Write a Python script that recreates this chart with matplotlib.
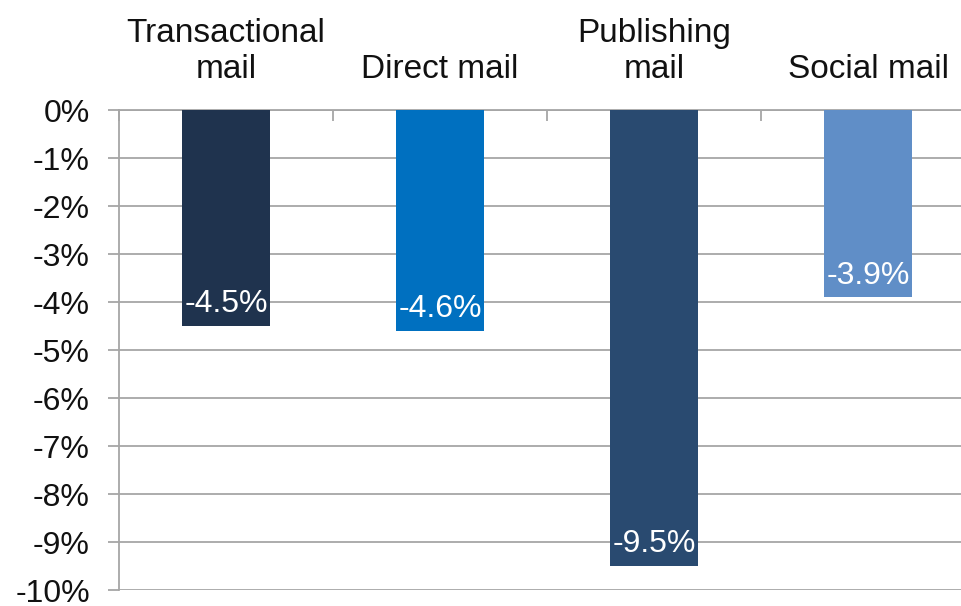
import matplotlib.pyplot as plt
import numpy as np

categories = ["Transactional\nmail", "Direct mail", "Publishing\nmail", "Social mail"]
changes = [-4.5, -4.6, -9.5, -3.9]
bar_colors = ["#1F334E", "#0070C0", "#294A70", "#608EC7"]
y_ticks = list(range(0, -11, -1))
y_labels = [str(t) + "%" for t in y_ticks]

plt.rcParams['font.family'] = ['Liberation Sans', 'DejaVu Sans']

fig = plt.figure(figsize=(9.61, 6.06), dpi=100)
ax = fig.add_axes([119/961, 1 - 590/606, (975 - 119)/961, 480/606])

x = np.arange(len(categories))
ax.bar(x, changes, width=0.41, color=bar_colors, zorder=3)

for xi, v in zip(x, changes):
    ax.text(xi, v + 0.45, f"{v:.1f}%", ha="center", va="center",
            color="white", fontsize=23, zorder=4)

grid_col = "#A6A6A6"
ax.set_ylim(-10, 0)
ax.set_xlim(-0.5, len(categories) - 0.5)
ax.set_yticks(y_ticks)
ax.set_yticklabels(y_labels, fontsize=23, color="#111111")
for t in y_ticks:
    ax.axhline(t, color=grid_col, linewidth=1.3, zorder=1)

ax.xaxis.tick_top()
ax.set_xticks(np.arange(len(categories) + 1) - 0.5)
ax.set_xticklabels([])
ax.set_xticks(x, minor=True)
ax.set_xticklabels(categories, minor=True, fontsize=24, va="bottom", color="#111111")
ax.tick_params(axis="x", which="major", direction="in", length=8, width=1.3, color=grid_col)
ax.tick_params(axis="x", which="minor", length=0, pad=18)
ax.tick_params(axis="y", direction="out", length=8, width=1.3, color=grid_col, pad=13)

for s in ["right", "bottom"]:
    ax.spines[s].set_visible(False)
for s in ["left", "top"]:
    ax.spines[s].set_color(grid_col)
    ax.spines[s].set_linewidth(1.3)

fig.savefig("out.png", dpi=100)
